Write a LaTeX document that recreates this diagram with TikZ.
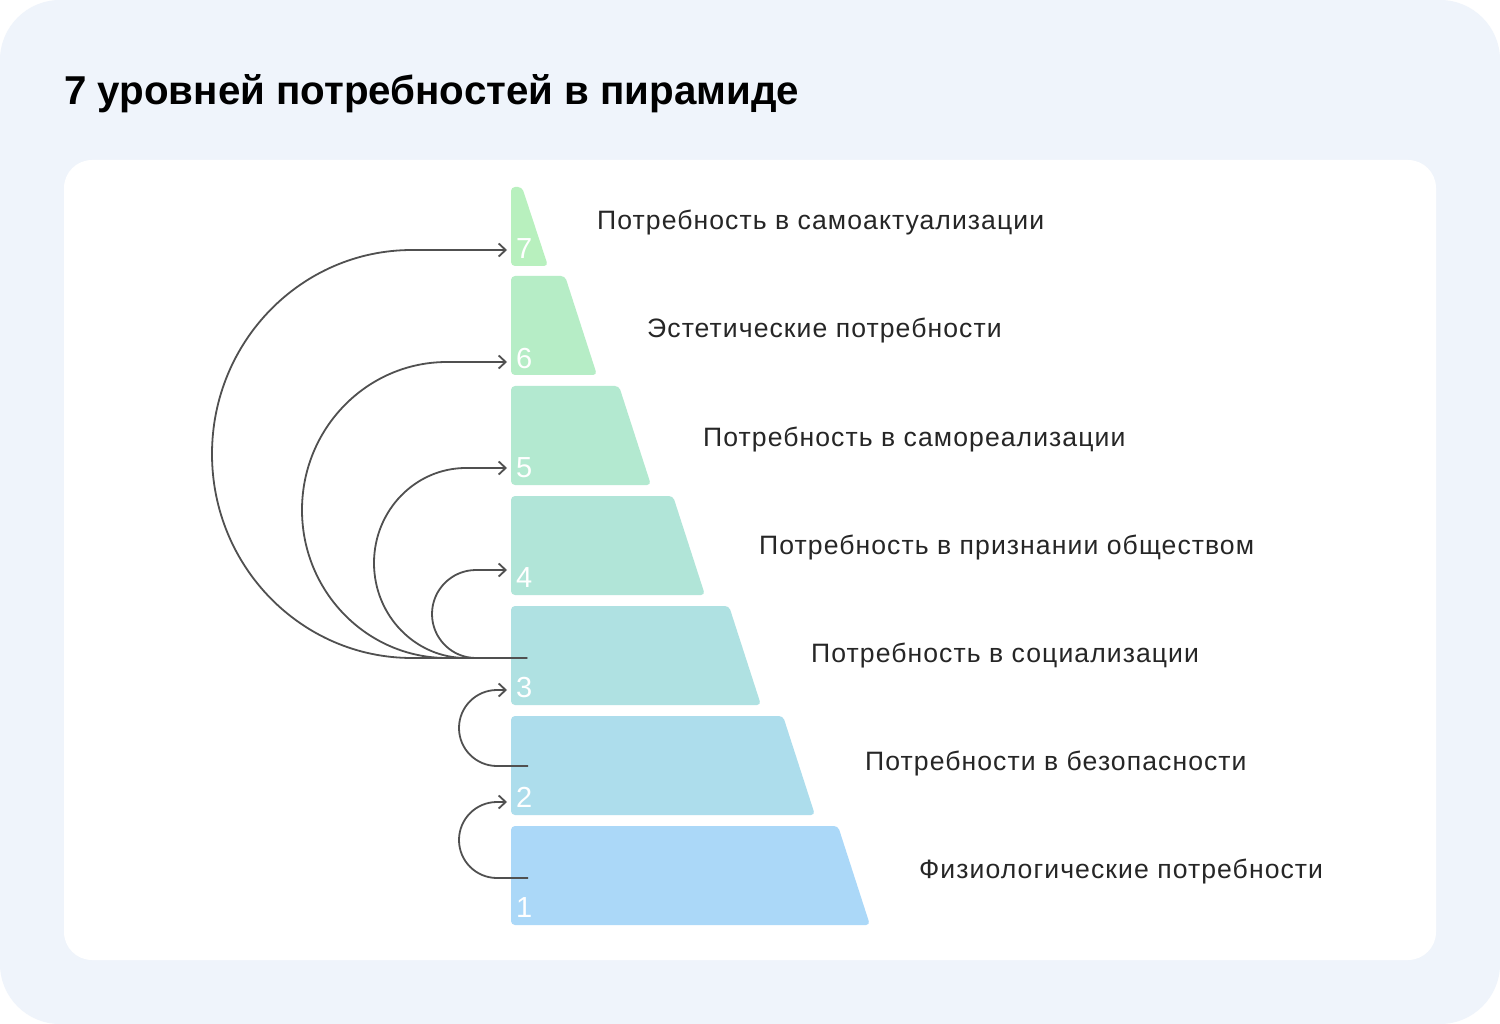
\documentclass[tikz,border=0pt]{standalone}
\usepackage{fontspec}
\setmainfont{Liberation Sans}
\usetikzlibrary{arrows.meta}
\definecolor{bgblue}{HTML}{EFF4FB}
\definecolor{conncol}{HTML}{505050}
\definecolor{c7}{RGB}{184,240,190}
\definecolor{c6}{RGB}{182,237,198}
\definecolor{c5}{RGB}{179,233,208}
\definecolor{c4}{RGB}{177,229,216}
\definecolor{c3}{RGB}{175,225,226}
\definecolor{c2}{RGB}{173,221,236}
\definecolor{c1}{RGB}{171,216,248}
\tikzset{
  trap/.style={rounded corners=4pt},
  digit/.style={anchor=base west, inner sep=0pt, text=white, font=\fontsize{29}{29}\selectfont},
  lbl/.style={anchor=base west, inner sep=0pt, text=black!85, font=\addfontfeature{LetterSpace=4}\fontsize{26.6}{26.6}\selectfont},
  conn/.style={draw=conncol, line width=1.8pt, -{Straight Barb[length=7pt,width=13pt,line width=1.8pt]}},
}
\begin{document}
\begin{tikzpicture}[x=1pt,y=-1pt]
\useasboundingbox (0,0) rectangle (1500,1024);
\fill[white] (0,0) rectangle (1500,1024);
\fill[bgblue, rounded corners=60pt] (0,0) rectangle (1500,1024);
\fill[white, rounded corners=28pt] (64,160) rectangle (1436,960);
\node[anchor=base west, inner sep=0pt, font=\bfseries\fontsize{40.3}{40.3}\selectfont] (title) at (64,105) {7 уровней потребностей в пирамиде};
% trapezoids
\fill[c7,trap] (511,266) -- (511,187) -- (522,187) -- (548,266) -- cycle;
\fill[c6,trap] (511,375) -- (511,276) -- (565,276) -- (597,375) -- cycle;
\fill[c5,trap] (511,485) -- (511,386) -- (619,386) -- (651,485) -- cycle;
\fill[c4,trap] (511,595) -- (511,496) -- (673,496) -- (705,595) -- cycle;
\fill[c3,trap] (511,705) -- (511,606) -- (729,606) -- (761,705) -- cycle;
\fill[c2,trap] (511,815) -- (511,716) -- (783,716) -- (815,815) -- cycle;
\fill[c1,trap] (511,925) -- (511,826) -- (838,826) -- (870,925) -- cycle;
% digits
\node[digit] (d7) at (516,259) {7};
\node[digit] (d6) at (516,369) {6};
\node[digit] (d5) at (516,477) {5};
\node[digit] (d4) at (516,587) {4};
\node[digit] (d3) at (516,697) {3};
\node[digit] (d2) at (516,807) {2};
\node[digit] (d1) at (516,917) {1};
% labels
\node[lbl] (l7) at (597,230) {Потребность в самоактуализации};
\node[lbl] (l6) at (647,338) {Эстетические потребности};
\node[lbl] (l5) at (703,446) {Потребность в самореализации};
\node[lbl] (l4) at (759,554) {Потребность в признании обществом};
\node[lbl] (l3) at (811,662) {Потребность в социализации};
\node[lbl] (l2) at (865,770) {Потребности в безопасности};
\node[lbl] (l1) at (919,878) {Физиологические потребности};
% connector anchors
\coordinate (s3) at (527,658);
\coordinate (s2) at (528,766);
\coordinate (s1) at (528,878);
\coordinate (a7) at (507,250);
\coordinate (a6) at (507,362);
\coordinate (a5) at (507,468);
\coordinate (a4) at (507,570);
\coordinate (a3) at (507,690);
\coordinate (a2) at (507,802);
% connectors
\draw[conn] (s3) -- (412,658) .. controls (301.5,658) and (212,566.7) .. (212,454) .. controls (212,341.3) and (301.5,250) .. (412,250) -- (a7);
\draw[conn] (s3) -- (447,658) .. controls (366.9,658) and (302,591.7) .. (302,510) .. controls (302,428.3) and (366.9,362) .. (447,362) -- (a6);
\draw[conn] (s3) -- (466,658) .. controls (415.2,658) and (374,615.5) .. (374,563) .. controls (374,510.5) and (415.2,468) .. (466,468) -- (a5);
\draw[conn] (s3) -- (476,658) .. controls (451.7,658) and (432,638.3) .. (432,614) .. controls (432,589.7) and (451.7,570) .. (476,570) -- (a4);
\draw[conn] (s2) -- (497,766) .. controls (476,766) and (459,749) .. (459,728) .. controls (459,707) and (476,690) .. (497,690) -- (a3);
\draw[conn] (s1) -- (497,878) .. controls (476,878) and (459,861) .. (459,840) .. controls (459,819) and (476,802) .. (497,802) -- (a2);
\end{tikzpicture}
\end{document}
